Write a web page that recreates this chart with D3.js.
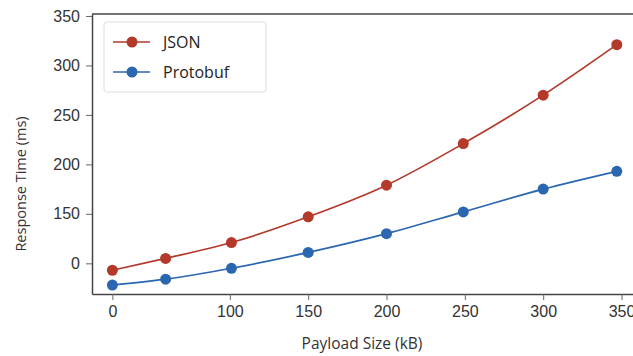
<!DOCTYPE html>
<html>
<head>
<meta charset="utf-8">
<script src="https://cdn.jsdelivr.net/npm/d3@7"></script>
<style>
  body { margin: 0; background: #fff; }
  svg { display: block; font-family: "Open Sans", "Noto Sans", sans-serif; }
</style>
</head>
<body>
<div id="chart"></div>
<script>
// payload sizes (kB) as they sit on the drawn x axis
const payloadSizes = [25, 59, 101, 150, 200, 249, 300, 347];
const jsonTimes = [93, 105, 121, 147, 179, 221, 270, 321];
const protobufTimes = [78, 84, 95, 111, 130, 152, 175, 193];

// tick positions and the labels printed on them
const xTickValues = [25, 100, 150, 200, 250, 300, 350];
const xTickLabels = ['0', '100', '150', '200', '250', '300', '350'];
const yTickValues = [100, 150, 200, 250, 300, 350];
const yTickLabels = ['0', '150', '200', '250', '300', '350'];

const seriesNames = ['JSON', 'Protobuf'];
const seriesColors = ['#b3392b', '#2b67b0'];

const width = 633, height = 356;
const margin = { top: 14, right: -12, bottom: 62, left: 92 };

const svg = d3.select('#chart').append('svg')
  .attr('width', width)
  .attr('height', height);

const x = d3.scaleLinear()
  .domain([12, 365])
  .range([margin.left, width - margin.right]);

const y = d3.scaleLinear()
  .domain([69, 352])
  .range([height - margin.bottom, margin.top]);

const series = [jsonTimes, protobufTimes].map((vals, i) => ({
  name: seriesNames[i],
  color: seriesColors[i],
  points: vals.map((v, j) => ({ x: payloadSizes[j], y: v }))
}));

// axes
const xAxis = svg.append('g')
  .attr('transform', `translate(0,${height - margin.bottom})`)
  .call(d3.axisBottom(x)
    .tickValues(xTickValues)
    .tickFormat((d, i) => xTickLabels[i])
    .tickSizeInner(6)
    .tickSizeOuter(0)
    .tickPadding(6));

const yAxis = svg.append('g')
  .attr('transform', `translate(${margin.left},0)`)
  .call(d3.axisLeft(y)
    .tickValues(yTickValues)
    .tickFormat((d, i) => yTickLabels[i])
    .tickSizeInner(6)
    .tickSizeOuter(0)
    .tickPadding(6));

[xAxis, yAxis].forEach(ax => {
  ax.select('.domain').attr('stroke', '#444').attr('stroke-width', 1.5);
  ax.selectAll('.tick line').attr('stroke', '#666');
  ax.selectAll('.tick text').attr('fill', '#333').attr('font-size', 16);
});

// top spine
svg.append('line')
  .attr('x1', margin.left).attr('x2', width)
  .attr('y1', margin.top).attr('y2', margin.top)
  .attr('stroke', '#444').attr('stroke-width', 1.5);

// axis titles
svg.append('text')
  .attr('x', 362)
  .attr('y', 349)
  .attr('text-anchor', 'middle')
  .attr('font-size', 15.5)
  .attr('fill', '#333')
  .text('Payload Size (kB)');

svg.append('text')
  .attr('transform', `translate(26,${(margin.top + height - margin.bottom) / 2 + 30}) rotate(-90)`)
  .attr('text-anchor', 'middle')
  .attr('font-size', 14.5)
  .attr('fill', '#333')
  .text('Response Time (ms)');

// lines + markers
const line = d3.line()
  .x(d => x(d.x))
  .y(d => y(d.y))
  .curve(d3.curveMonotoneX);

const groups = svg.append('g').selectAll('g')
  .data(series)
  .join('g');

groups.append('path')
  .attr('d', d => line(d.points))
  .attr('fill', 'none')
  .attr('stroke', d => d.color)
  .attr('stroke-width', 1.7);

groups.selectAll('circle')
  .data(d => d.points.map(p => ({ ...p, color: d.color })))
  .join('circle')
  .attr('cx', d => x(d.x))
  .attr('cy', d => y(d.y))
  .attr('r', 5.5)
  .attr('fill', d => d.color);

// legend
const legend = svg.append('g').attr('transform', 'translate(104,22)');

legend.append('rect')
  .attr('width', 162)
  .attr('height', 70)
  .attr('rx', 3)
  .attr('fill', '#fff')
  .attr('stroke', '#ddd');

const items = legend.selectAll('g.item')
  .data(series)
  .join('g')
  .attr('class', 'item')
  .attr('transform', (d, i) => `translate(0,${20 + i * 30})`);

items.append('line')
  .attr('x1', 9).attr('x2', 46)
  .attr('stroke', d => d.color)
  .attr('stroke-width', 1.7);

items.append('circle')
  .attr('cx', 28)
  .attr('r', 5.5)
  .attr('fill', d => d.color);

items.append('text')
  .attr('x', 59)
  .attr('dy', '0.35em')
  .attr('font-size', 16)
  .attr('fill', '#222')
  .text(d => d.name);
</script>
</body>
</html>
